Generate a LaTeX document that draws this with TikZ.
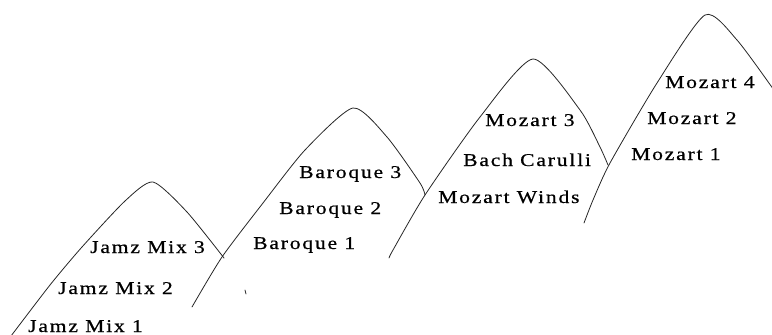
\documentclass[tikz,border=0pt]{standalone}
\usepackage{fontspec}
\newfontfamily\lblfont{Liberation Serif}[FakeStretch=1.2,LetterSpace=10,FakeBold=0.6]
\begin{document}
\begin{tikzpicture}[x=1pt,y=-1pt,
  hill/.style={draw=black!85,line width=0.8pt,line cap=round},
  lbl/.style={anchor=base west,inner sep=0pt,font=\lblfont\fontsize{18}{21}\selectfont}]
\useasboundingbox (0,0) rectangle (772,335);

% four overlapping hills, each an arch with a narrow rounded top
\draw[hill] plot[smooth,tension=0.4] coordinates
  {(8,340) (50,285) (82,247) (125,201) (153,182) (187,212) (224,258)};
\draw[hill] plot[smooth,tension=0.4] coordinates
  {(192,307) (222,257) (263,203) (305,150) (353,108) (387,137) (420,183) (425,195)};
\draw[hill] plot[smooth,tension=0.4] coordinates
  {(389,258) (393,250) (425,195) (480,117) (533,59) (580,110) (600,147) (608,165)};
\draw[hill] plot[smooth,tension=0.4] coordinates
  {(584,223) (593,200) (610,163) (657,83) (705,15) (737,40) (776,93)};
\draw[hill] (245,290) -- (246,294);

% playlists on the first hill
\node[lbl] (jm1) at (28,332) {Jamz Mix 1};
\node[lbl] (jm2) at (58,294) {Jamz Mix 2};
\node[lbl] (jm3) at (90,253) {Jamz Mix 3};
% second hill
\node[lbl] (br1) at (253,249) {Baroque 1};
\node[lbl] (br2) at (279,214) {Baroque 2};
\node[lbl] (br3) at (299,178) {Baroque 3};
% third hill
\node[lbl] (mzw) at (438,203) {Mozart Winds};
\node[lbl] (bch) at (463,166) {Bach Carulli};
\node[lbl] (mz3) at (485,126) {Mozart 3};
% fourth hill
\node[lbl] (mz1) at (631,160) {Mozart 1};
\node[lbl] (mz2) at (647,124) {Mozart 2};
\node[lbl] (mz4) at (665,88) {Mozart 4};
\end{tikzpicture}
\end{document}
